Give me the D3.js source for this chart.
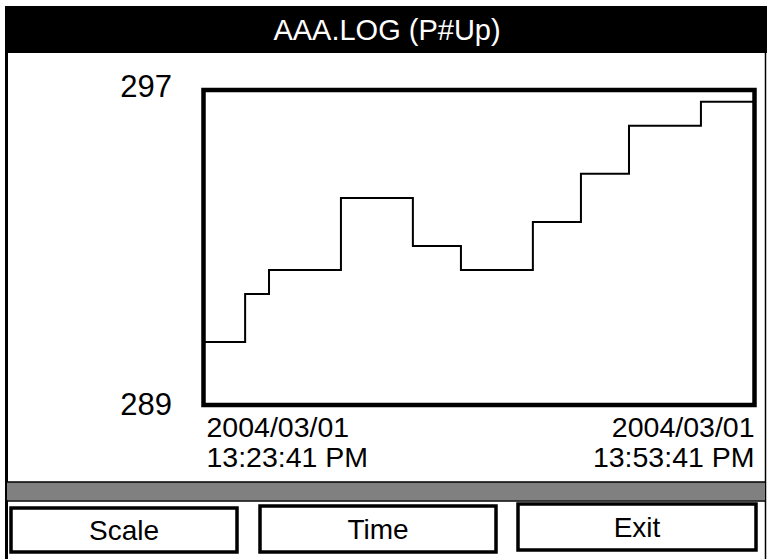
<!DOCTYPE html>
<html>
<head>
<meta charset="utf-8">
<script src="https://cdn.jsdelivr.net/npm/d3@7"></script>
<style>
  html, body { margin: 0; padding: 0; background: #fff; }
  svg { display: block; font-family: "Liberation Sans", Arial, sans-serif; }
</style>
</head>
<body>
<svg id="chart" width="767" height="559"></svg>
<script>
// Log record: time stamps (2004/03/01) and the logged P#Up values
const logTimes = ["13:23:41", "13:25:57", "13:27:15", "13:31:10", "13:35:05",
                  "13:37:42", "13:41:37", "13:44:14", "13:46:51", "13:50:46"];
const logValues = [290.6, 291.82, 292.43, 294.26, 293.04,
                   292.43, 293.65, 294.87, 296.09, 296.7];
const logDate = "2004/03/01";
const startTime = "13:23:41";
const endTime = "13:53:41";
const yTicks = [289, 297];
const xTickLabels = [["2004/03/01", "13:23:41 PM"], ["2004/03/01", "13:53:41 PM"]];
const titleText = "AAA.LOG (P#Up)";
const buttonLabels = ["Scale", "Time", "Exit"];

const svg = d3.select("#chart");
const parse = d3.timeParse("%Y/%m/%d %H:%M:%S");

// Screen frame
svg.append("rect").attr("x", 5).attr("y", 6).attr("width", 762).attr("height", 47).attr("fill", "#000");
svg.append("line").attr("x1", 6.5).attr("x2", 6.5).attr("y1", 6).attr("y2", 559)
  .attr("stroke", "#000").attr("stroke-width", 3);
svg.append("line").attr("x1", 765.5).attr("x2", 765.5).attr("y1", 50).attr("y2", 559)
  .attr("stroke", "#000").attr("stroke-width", 1.5);

svg.append("text").attr("x", 387).attr("y", 40).attr("text-anchor", "middle")
  .attr("fill", "#fff").attr("font-size", 29).text(titleText);

// Plot area
const plot = { left: 203.5, right: 754.5, top: 90, bottom: 405 };

const x = d3.scaleTime()
  .domain([parse(logDate + " " + startTime), parse(logDate + " " + endTime)])
  .range([plot.left, plot.right]);
const y = d3.scaleLinear()
  .domain([yTicks[0], yTicks[1]])
  .range([plot.bottom, plot.top]);

const points = logTimes.map((t, i) => ({ t: parse(logDate + " " + t), v: logValues[i] }));
points.push({ t: parse(logDate + " " + endTime), v: logValues[logValues.length - 1] });

const line = d3.line()
  .x(d => x(d.t))
  .y(d => y(d.v))
  .curve(d3.curveStepAfter);

svg.append("path").datum(points)
  .attr("d", line)
  .attr("fill", "none")
  .attr("stroke", "#000")
  .attr("stroke-width", 2);

svg.append("rect")
  .attr("x", plot.left).attr("y", plot.top)
  .attr("width", plot.right - plot.left).attr("height", plot.bottom - plot.top)
  .attr("fill", "none").attr("stroke", "#000").attr("stroke-width", 4.5);

// Y range labels
svg.selectAll(".ylab").data(yTicks).enter().append("text")
  .attr("class", "ylab")
  .attr("x", 172)
  .attr("y", d => y(d) + (d === yTicks[1] ? 7 : 10))
  .attr("text-anchor", "end")
  .attr("font-size", 31)
  .text(d => d);

// X range labels (start and end time)
xTickLabels.forEach((lab, i) => {
  const t = svg.append("text")
    .attr("x", i === 0 ? plot.left + 3 : plot.right)
    .attr("text-anchor", i === 0 ? "start" : "end")
    .attr("font-size", 28.5);
  lab.forEach((s, j) => {
    t.append("tspan")
      .attr("x", i === 0 ? plot.left + 3 : plot.right)
      .attr("y", 437 + j * 30)
      .text(s);
  });
});

// Status bar
svg.append("rect").attr("x", 7).attr("y", 482).attr("width", 758).attr("height", 18.5)
  .attr("fill", "#808080");
svg.append("line").attr("x1", 7).attr("x2", 766).attr("y1", 482).attr("y2", 482)
  .attr("stroke", "#000").attr("stroke-width", 1.5);
svg.append("line").attr("x1", 7).attr("x2", 766).attr("y1", 501).attr("y2", 501)
  .attr("stroke", "#000").attr("stroke-width", 1.5);

// Soft keys
const keyBoxes = [
  { x: 11, y: 508, w: 226, h: 44, ty: 540 },
  { x: 260, y: 506, w: 236, h: 46, ty: 539 },
  { x: 518, y: 504, w: 238, h: 46, ty: 537 }
];
buttonLabels.forEach((lab, i) => {
  const b = keyBoxes[i];
  svg.append("rect").attr("x", b.x).attr("y", b.y).attr("width", b.w).attr("height", b.h)
    .attr("fill", "none").attr("stroke", "#000").attr("stroke-width", 3.5);
  svg.append("text").attr("x", b.x + b.w / 2).attr("y", b.ty)
    .attr("text-anchor", "middle").attr("font-size", 28).text(lab);
});
</script>
</body>
</html>
